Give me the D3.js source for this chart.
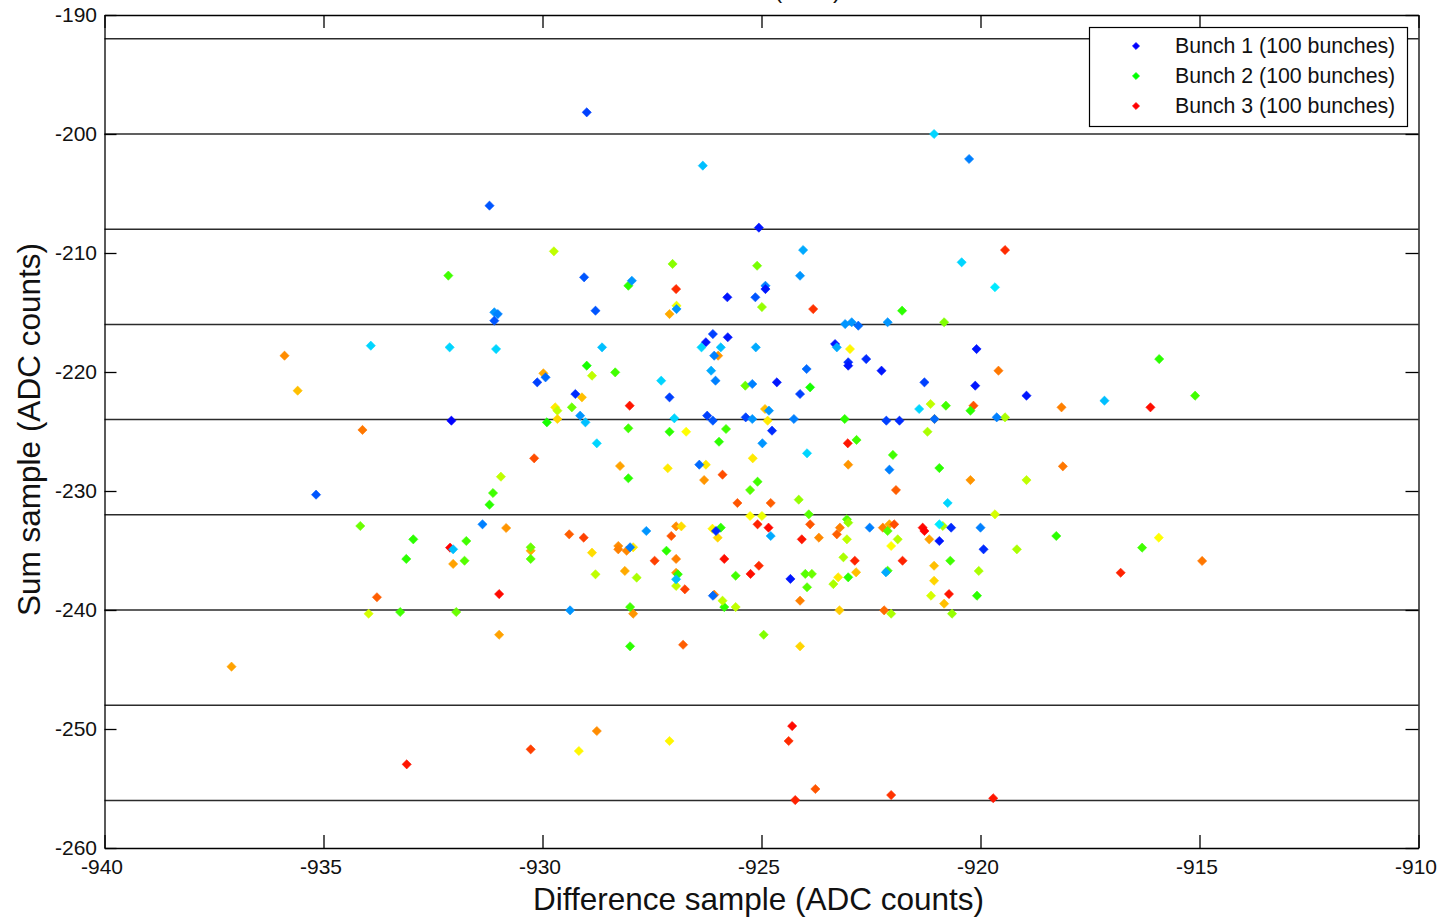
<!DOCTYPE html>
<html>
<head>
<meta charset="utf-8">
<script src="https://cdn.jsdelivr.net/npm/d3@7"></script>
<style>
  html, body { margin: 0; padding: 0; background: #fff; }
  svg { display: block; }
  text { font-family: "Liberation Sans", Arial, sans-serif; fill: #111; }
</style>
</head>
<body>
<svg id="chart" width="1437" height="917"></svg>
<script>
// Axis ranges and ticks
const xDomain = [-940, -910];
const yDomain = [-260, -190];
const xTicks = [-940, -935, -930, -925, -920, -915, -910];
const yTicks = [-260, -250, -240, -230, -220, -210, -200, -190];
// Horizontal reference levels (every 8 counts)
const refLevels = [-192, -200, -208, -216, -224, -232, -240, -248, -256];

const xLabel = "Difference sample (ADC counts)";
const yLabel = "Sum sample (ADC counts)";
const titleText = "Raw data (ADC)";

const legendLabels = ["Bunch 1 (100 bunches)", "Bunch 2 (100 bunches)", "Bunch 3 (100 bunches)"];
const legendColors = ["#0000ff", "#00ff00", "#ff0000"];

// Points: [difference, sum, hue of marker colour]
const bunch1 = [
  [-928.99,-198.18,225],[-921.06,-200.00,190],[-926.34,-202.66,195],[-931.21,-206.02,220],
  [-925.06,-207.87,235],[-924.05,-209.75,200],[-920.43,-210.78,190],[-929.05,-212.04,220],
  [-927.96,-212.33,205],[-924.12,-211.91,205],[-925.78,-213.72,235],[-925.14,-213.72,220],
  [-924.91,-212.75,210],[-924.91,-213.03,235],[-920.26,-202.10,210],[-919.67,-212.88,185],
  [-931.10,-214.98,205],[-931.02,-215.13,210],[-931.10,-215.69,220],[-928.79,-214.85,220],
  [-926.94,-214.71,205],[-933.92,-217.79,190],[-932.12,-217.93,190],[-931.06,-218.07,190],
  [-928.64,-217.93,195],[-929.93,-220.45,215],[-930.12,-220.87,225],[-927.29,-220.73,190],
  [-929.25,-221.85,230],[-927.10,-222.13,225],[-929.14,-223.67,205],[-929.02,-224.23,195],
  [-932.08,-224.09,240],[-926.99,-223.89,190],[-923.09,-215.97,205],[-922.94,-215.82,205],
  [-922.79,-216.11,215],[-922.12,-215.82,205],[-926.11,-216.81,225],[-926.27,-217.50,235],
  [-926.37,-217.93,190],[-925.77,-217.08,235],[-925.93,-217.93,195],[-926.08,-218.63,210],
  [-926.15,-219.89,200],[-926.05,-220.73,210],[-925.13,-217.93,200],[-923.97,-219.75,215],
  [-923.32,-217.65,235],[-923.28,-217.93,200],[-923.02,-219.18,230],[-923.02,-219.47,235],
  [-922.61,-218.91,230],[-922.26,-219.89,235],[-920.09,-218.07,235],[-921.28,-220.87,225],
  [-920.12,-221.15,235],[-918.95,-221.99,235],[-925.21,-221.01,210],[-924.65,-220.87,235],
  [-924.12,-221.85,225],[-924.83,-223.25,205],[-926.24,-223.67,225],[-926.11,-224.09,220],
  [-925.36,-223.81,225],[-925.21,-223.95,205],[-924.26,-223.95,210],[-922.15,-224.09,225],
  [-921.85,-224.09,230],[-921.40,-223.11,190],[-921.05,-223.95,215],[-919.63,-223.81,210],
  [-924.76,-224.93,230],[-917.17,-222.41,195],[-920.00,-233.08,210],[-919.93,-234.90,230],
  [-935.17,-230.31,220],[-932.04,-234.90,195],[-931.37,-232.80,210],[-929.37,-240.03,205],
  [-928.76,-225.99,190],[-928.00,-234.73,210],[-927.63,-233.36,205],[-926.95,-237.42,195],
  [-926.11,-238.80,215],[-926.04,-233.36,230],[-924.98,-225.99,205],[-923.96,-226.83,190],
  [-926.42,-227.79,215],[-922.08,-228.21,210],[-920.75,-231.01,190],[-924.79,-233.78,200],
  [-922.53,-233.08,210],[-920.94,-232.80,185],[-920.67,-233.08,230],[-920.94,-234.20,235],
  [-924.34,-237.39,235],[-922.16,-236.83,200]
];

const bunch2 = [
  [-932.15,-211.90,105],[-929.74,-209.86,75],[-927.03,-210.92,88],[-925.10,-211.07,92],
  [-928.04,-212.75,110],[-926.94,-214.43,65],[-928.99,-219.47,115],[-928.87,-220.31,75],
  [-928.34,-220.03,105],[-929.71,-222.97,55],[-929.66,-223.25,75],[-929.66,-223.95,50],
  [-929.33,-222.97,95],[-929.90,-224.23,115],[-928.04,-224.73,105],[-927.10,-225.02,110],
  [-926.72,-225.02,60],[-924.99,-214.54,85],[-921.79,-214.85,110],[-920.83,-215.82,90],
  [-922.98,-218.07,58],[-925.37,-221.15,95],[-923.89,-221.29,115],[-924.86,-224.09,55],
  [-923.10,-223.95,110],[-921.14,-222.69,75],[-920.79,-222.83,105],[-920.23,-223.25,110],
  [-919.44,-223.81,80],[-925.81,-224.79,105],[-921.21,-225.02,80],[-915.92,-218.91,110],
  [-915.10,-221.99,105],[-918.95,-229.08,75],[-919.67,-231.96,70],[-919.17,-234.90,80],
  [-918.27,-233.78,110],[-916.31,-234.76,105],[-915.93,-233.92,60],[-920.04,-236.72,80],
  [-920.08,-238.80,110],[-934.16,-232.94,95],[-932.95,-234.06,110],[-933.11,-235.71,110],
  [-931.74,-234.20,105],[-931.78,-235.86,100],[-933.97,-240.31,70],[-933.25,-240.17,105],
  [-931.97,-240.17,95],[-928.00,-239.75,105],[-925.85,-239.75,110],[-925.59,-239.75,75],
  [-920.65,-240.31,85],[-922.04,-240.31,80],[-928.00,-243.05,110],[-924.95,-242.08,90],
  [-929.17,-251.85,58],[-927.10,-251.01,58],[-927.14,-228.09,55],[-928.04,-228.93,110],
  [-930.95,-228.80,75],[-931.13,-230.17,105],[-931.21,-231.15,110],[-930.27,-234.73,95],
  [-930.27,-235.71,100],[-928.87,-235.18,52],[-928.79,-237.00,75],[-927.93,-234.73,55],
  [-927.17,-235.02,110],[-927.85,-237.28,80],[-926.91,-237.00,110],[-926.95,-237.98,75],
  [-926.83,-232.97,52],[-925.97,-225.86,110],[-922.83,-225.71,105],[-922.00,-226.97,105],
  [-925.20,-227.25,55],[-926.27,-227.79,55],[-920.94,-228.07,110],[-925.09,-229.22,105],
  [-925.26,-229.92,100],[-924.15,-230.73,85],[-925.26,-232.10,60],[-924.99,-232.10,65],
  [-923.92,-231.96,100],[-923.05,-232.38,100],[-923.02,-232.66,85],[-923.05,-234.06,75],
  [-922.12,-233.36,100],[-921.89,-234.06,78],[-922.04,-234.62,60],[-920.86,-232.94,80],
  [-920.69,-235.86,105],[-921.06,-237.54,50],[-921.13,-238.80,70],[-925.59,-237.12,105],
  [-924.00,-236.97,100],[-923.85,-236.97,95],[-923.96,-238.09,100],[-923.13,-235.57,80],
  [-923.25,-237.25,55],[-923.02,-237.25,110],[-923.36,-237.82,80],[-922.12,-236.70,105],
  [-926.12,-233.17,58],[-925.93,-233.08,110],[-926.00,-233.92,50],[-925.89,-239.22,75]
];

const bunch3 = [
  [-926.95,-213.03,10],[-927.10,-215.13,40],[-929.98,-220.11,40],[-929.10,-222.13,45],
  [-928.01,-222.83,5],[-934.11,-224.87,28],[-923.82,-214.71,12],[-919.44,-209.75,10],
  [-925.99,-218.63,35],[-919.59,-219.89,28],[-918.15,-222.97,30],[-924.92,-223.11,45],
  [-920.16,-222.83,20],[-921.05,-223.95,40],[-916.12,-222.97,3],[-920.23,-229.08,35],
  [-918.12,-227.93,28],[-914.94,-235.88,28],[-916.80,-236.87,8],[-919.71,-255.82,5],
  [-935.89,-218.63,33],[-935.59,-221.57,45],[-932.11,-234.76,0],[-932.04,-236.13,38],
  [-933.78,-238.93,22],[-937.10,-244.76,38],[-933.10,-252.97,5],[-927.93,-240.31,35],
  [-924.12,-239.22,30],[-923.22,-240.03,48],[-922.20,-240.03,25],[-920.83,-239.47,45],
  [-930.99,-242.08,38],[-926.79,-242.92,22],[-924.12,-243.05,50],[-928.76,-250.17,33],
  [-930.27,-251.71,15],[-924.30,-249.75,2],[-924.38,-251.01,10],[-923.77,-255.04,20],
  [-924.23,-255.97,8],[-922.04,-255.55,12],[-930.19,-227.25,18],[-928.23,-227.90,38],
  [-930.83,-233.11,35],[-930.27,-235.02,40],[-929.39,-233.64,22],[-929.06,-233.92,15],
  [-928.27,-234.62,33],[-928.27,-234.90,30],[-928.08,-235.02,32],[-926.95,-232.97,33],
  [-927.06,-233.78,20],[-927.44,-235.86,15],[-926.95,-235.71,30],[-928.12,-236.72,40],
  [-926.95,-236.87,35],[-926.75,-238.26,15],[-930.99,-238.66,2],[-923.03,-225.99,5],
  [-923.02,-227.79,35],[-926.31,-229.08,35],[-925.89,-228.63,18],[-921.93,-229.92,22],
  [-925.55,-231.01,20],[-924.79,-231.01,22],[-925.09,-232.80,8],[-924.84,-233.08,2],
  [-923.89,-232.80,20],[-924.08,-234.06,5],[-923.69,-233.92,32],[-923.21,-233.08,30],
  [-923.28,-233.64,22],[-922.23,-233.08,30],[-922.08,-232.80,40],[-921.97,-232.80,18],
  [-921.32,-233.08,2],[-921.28,-233.36,0],[-921.17,-234.06,38],[-921.78,-235.86,8],
  [-921.06,-236.28,45],[-920.72,-238.66,5],[-925.85,-235.71,3],[-925.25,-236.97,3],
  [-925.06,-236.28,10],[-922.87,-235.86,8],[-922.84,-236.83,45],[-926.08,-238.71,30]
];

// Layout
const plot = { left: 104.5, top: 15, right: 1418.5, bottom: 848 };
const svg = d3.select("#chart");

const x = d3.scaleLinear().domain(xDomain).range([plot.left, plot.right]);
const y = d3.scaleLinear().domain(yDomain).range([plot.bottom, plot.top]);

const fontFamily = '"Liberation Sans", Arial, sans-serif';
const diamond = (r) => `M0,${-r}L${r},0L0,${r}L${-r},0Z`;
const hueColor = (h) => d3.hsl(h, 1, 0.5).formatHex();
const plainNumber = (d) => String(d);   // keeps the ASCII hyphen as minus sign

// Reference levels
svg.append("g")
  .selectAll("line")
  .data(refLevels)
  .join("line")
  .attr("x1", plot.left).attr("x2", plot.right)
  .attr("y1", d => y(d)).attr("y2", d => y(d))
  .attr("stroke", "#2b2b2b")
  .attr("stroke-width", 1.5);

// Markers, drawn bunch 3 first so bunch 1 sits on top
const markers = svg.append("g");
[bunch3, bunch2, bunch1].forEach(series => {
  markers.append("g")
    .selectAll("path")
    .data(series)
    .join("path")
    .attr("d", diamond(4.6))
    .attr("transform", d => `translate(${x(d[0])},${y(d[1])})`)
    .attr("fill", d => hueColor(d[2]))
    .attr("stroke", d => hueColor(d[2]))
    .attr("stroke-width", 0.6);
});

// Axes: ticks point inward on all four sides
function styleAxis(g, size) {
  g.selectAll(".domain").attr("stroke", "#000").attr("stroke-width", 1.3);
  g.selectAll(".tick line").attr("stroke", "#000").attr("stroke-width", 1.3);
  g.selectAll(".tick text")
    .attr("fill", "#111")
    .style("font-family", fontFamily)
    .style("font-size", size + "px");
}

svg.append("g")
  .attr("transform", `translate(0,${plot.bottom})`)
  .call(d3.axisBottom(x).tickValues(xTicks).tickSizeInner(-13).tickSizeOuter(0).tickPadding(11)
    .tickFormat(plainNumber))
  .call(g => styleAxis(g, 21))
  .call(g => g.selectAll(".tick text").attr("dx", "-3"));

svg.append("g")
  .attr("transform", `translate(${plot.left},0)`)
  .call(d3.axisLeft(y).tickValues(yTicks).tickSizeInner(-12).tickSizeOuter(0).tickPadding(7.5)
    .tickFormat(plainNumber))
  .call(g => styleAxis(g, 21));

svg.append("g")
  .attr("transform", `translate(0,${plot.top})`)
  .call(d3.axisTop(x).tickValues(xTicks).tickSizeInner(-13).tickSizeOuter(0).tickFormat(""))
  .call(g => styleAxis(g, 21));

svg.append("g")
  .attr("transform", `translate(${plot.right},0)`)
  .call(d3.axisRight(y).tickValues(yTicks).tickSizeInner(-13).tickSizeOuter(0).tickFormat(""))
  .call(g => styleAxis(g, 21));

// Axis titles
svg.append("text")
  .attr("x", 758.5).attr("y", 910)
  .attr("text-anchor", "middle")
  .style("font-size", "31.5px")
  .text(xLabel);

svg.append("text")
  .attr("transform", "translate(40,429.5) rotate(-90)")
  .attr("text-anchor", "middle")
  .style("font-size", "31.5px")
  .text(yLabel);

// Plot title (sits above the visible area, only its lowest strokes show)
svg.append("text")
  .attr("x", 841).attr("y", -2)
  .attr("text-anchor", "end")
  .style("font-size", "24px")
  .text(titleText);

// Legend
const legend = svg.append("g");
legend.append("rect")
  .attr("x", 1089.5).attr("y", 27.5)
  .attr("width", 318).attr("height", 99)
  .attr("fill", "#fff")
  .attr("stroke", "#000")
  .attr("stroke-width", 1.2);

const rows = legend.selectAll("g.row")
  .data(legendLabels)
  .join("g")
  .attr("class", "row")
  .attr("transform", (d, i) => `translate(0,${46 + i * 30})`);

rows.append("path")
  .attr("d", diamond(3.6))
  .attr("transform", "translate(1136,0)")
  .attr("fill", (d, i) => legendColors[i])
  .attr("stroke", (d, i) => legendColors[i])
  .attr("stroke-width", 0.6);

rows.append("text")
  .attr("x", 1175)
  .attr("dy", "0.35em")
  .style("font-size", "21.3px")
  .text(d => d);
</script>
</body>
</html>
